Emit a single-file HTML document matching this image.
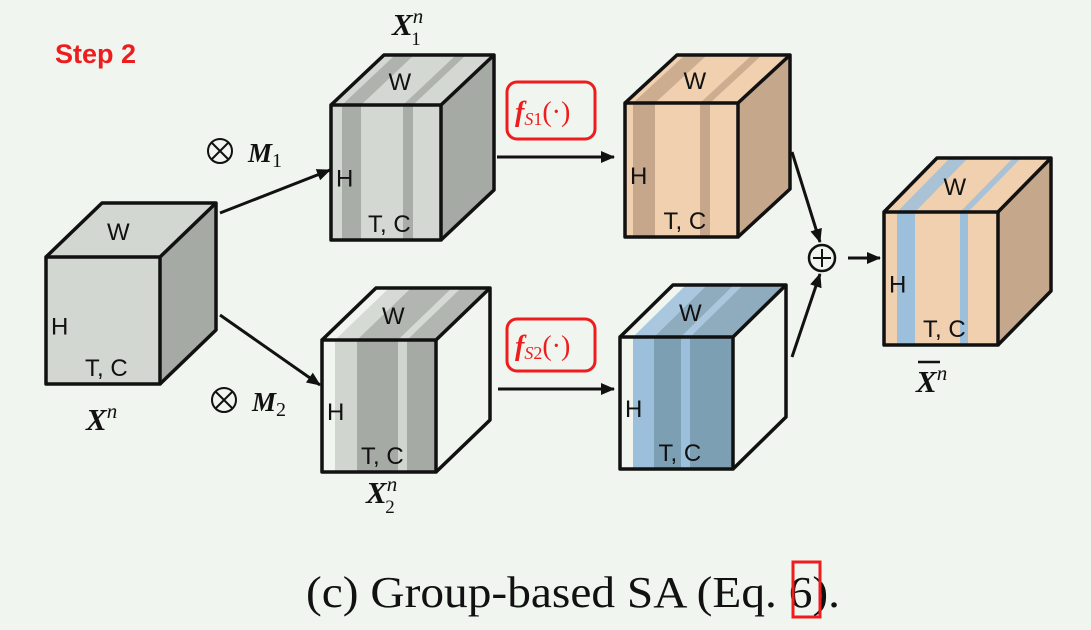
<!DOCTYPE html>
<html><head><meta charset="utf-8"><style>
html,body{margin:0;padding:0;background:#f0f5ef;}
svg{display:block}
.s{font-family:"Liberation Sans",sans-serif;font-size:24px;fill:#111}
.m{font-family:"Liberation Serif",serif;font-weight:bold;font-style:italic;fill:#111}
</style></head><body>
<svg id="svg" width="1091" height="630" viewBox="0 0 1091 630" xmlns="http://www.w3.org/2000/svg">
<defs><marker id="ah" markerWidth="14" markerHeight="12" refX="13" refY="6" orient="auto" markerUnits="userSpaceOnUse"><path d="M0,0 L14,6 L0,12 Z" fill="#111"/></marker></defs>
<rect width="1091" height="630" fill="#f0f5ef"/>
<text x="55" y="63" font-family="Liberation Sans,sans-serif" font-weight="bold" font-size="27" fill="#ee1c1c">Step 2</text>
<g id="cubes"></g>
<g stroke="#111" stroke-width="3" fill="none">
<line x1="220" y1="213" x2="330" y2="170" marker-end="url(#ah)"/>
<line x1="220" y1="315" x2="320" y2="385" marker-end="url(#ah)"/>
<line x1="497" y1="157" x2="614" y2="157" marker-end="url(#ah)"/>
<line x1="498" y1="389" x2="614" y2="389" marker-end="url(#ah)"/>
<line x1="792" y1="152" x2="820" y2="242" marker-end="url(#ah)"/>
<line x1="792" y1="357" x2="820" y2="274" marker-end="url(#ah)"/>
<line x1="848" y1="258" x2="880" y2="258" marker-end="url(#ah)"/>
</g>
<g><circle cx="822" cy="258" r="13" fill="#f0f5ef" stroke="#111" stroke-width="2.5"/><line x1="813" y1="258" x2="831" y2="258" stroke="#111" stroke-width="2"/><line x1="822" y1="249" x2="822" y2="267" stroke="#111" stroke-width="2"/></g>
<g><circle cx="220" cy="151" r="12" fill="none" stroke="#111" stroke-width="2"/><path d="M212,143 L228,159 M228,143 L212,159" stroke="#111" stroke-width="2"/><text x="248" y="162" class="m" font-size="27">M<tspan font-style="normal" font-weight="normal" font-size="20" dy="5">1</tspan></text></g>
<g><circle cx="224" cy="400" r="12" fill="none" stroke="#111" stroke-width="2"/><path d="M216,392 L232,408 M232,392 L216,408" stroke="#111" stroke-width="2"/><text x="252" y="411" class="m" font-size="27">M<tspan font-style="normal" font-weight="normal" font-size="20" dy="5">2</tspan></text></g>
<g><rect x="507" y="82" width="88" height="57" rx="10" fill="none" stroke="#ee1c1c" stroke-width="3"/><text x="515" y="121" font-family="Liberation Serif,serif" font-size="28" fill="#ee1c1c"><tspan font-style="italic" font-weight="bold">f</tspan><tspan font-style="italic" font-size="18" dy="4">S</tspan><tspan font-size="18">1</tspan><tspan dy="-4">(·)</tspan></text></g>
<g><rect x="507" y="319" width="88" height="52" rx="10" fill="none" stroke="#ee1c1c" stroke-width="3"/><text x="515" y="355" font-family="Liberation Serif,serif" font-size="28" fill="#ee1c1c"><tspan font-style="italic" font-weight="bold">f</tspan><tspan font-style="italic" font-size="18" dy="4">S</tspan><tspan font-size="18">2</tspan><tspan dy="-4">(·)</tspan></text></g>
<text x="86" y="430" class="m" font-size="31">X<tspan font-style="italic" font-weight="normal" font-size="21" dy="-12">n</tspan></text>
<text x="392" y="35" class="m" font-size="31">X<tspan font-size="21" font-weight="normal" dy="-12">n</tspan><tspan font-size="19" font-style="normal" font-weight="normal" dx="-12" dy="22">1</tspan></text>
<text x="366" y="503" class="m" font-size="31">X<tspan font-size="21" font-weight="normal" dy="-12">n</tspan><tspan font-size="19" font-style="normal" font-weight="normal" dx="-12" dy="22">2</tspan></text>
<g><line x1="918" y1="362" x2="940" y2="362" stroke="#111" stroke-width="2.5"/><text x="916" y="392" class="m" font-size="31">X<tspan font-style="italic" font-weight="normal" font-size="21" dy="-12">n</tspan></text></g>
<text x="306" y="607" textLength="534" lengthAdjust="spacingAndGlyphs" font-family="Liberation Serif,serif" font-size="44" fill="#111">(c) Group-based SA (Eq. 6).</text>
<rect x="793" y="562" width="27" height="55" fill="none" stroke="#ee1c1c" stroke-width="3"/>
</svg>
<script>
const NS="http://www.w3.org/2000/svg";
const g=document.getElementById('cubes');
function mk(t,a,p){const e=document.createElementNS(NS,t);for(const k in a)e.setAttribute(k,a[k]);p.appendChild(e);return e;}
function cube(name,x,y,w,h,dx,dy,front,side,stripes){
 const c=mk('g',{},g);
 
 
 mk('polygon',{points:`${x},${y} ${x+w},${y} ${x+w+dx},${y-dy} ${x+dx},${y-dy}`,fill:front},c);
 mk('polygon',{points:`${x+w},${y} ${x+w+dx},${y-dy} ${x+w+dx},${y+h-dy} ${x+w},${y+h}`,fill:side},c);
 mk('rect',{x:x,y:y,width:w,height:h,fill:front},c);
 stripes.forEach(s=>{
  mk('rect',{x:s[0],y:y,width:s[1]-s[0],height:h,fill:s[2]},c);
  mk('polygon',{points:`${s[0]},${y} ${s[1]},${y} ${s[1]+dx},${y-dy} ${s[0]+dx},${y-dy}`,fill:s[2],opacity:0.85},c);
 });
 const st={fill:'none',stroke:'#111','stroke-width':3.5,'stroke-linejoin':'round'};
 mk('rect',Object.assign({x:x,y:y,width:w,height:h},st),c);
 mk('polyline',Object.assign({points:`${x},${y} ${x+dx},${y-dy} ${x+w+dx},${y-dy} ${x+w+dx},${y+h-dy} ${x+w},${y+h}`},st),c);
 mk('line',Object.assign({x1:x+w,y1:y,x2:x+w+dx,y2:y-dy},st),c);
 const W=mk('text',{x:x+dx/2+w/2-24,y:y-dy/2+10,class:'s'},c);W.textContent='W';
 const H=mk('text',{x:x+5,y:y+h/2+14,class:'s'},c);H.textContent='H';
 const T=mk('text',{x:x+w/2-18,y:y+h-8,class:'s'},c);T.textContent='T, C';
}
cube('input-cube',46,257,114,127,56,54,'#d2d7d1','#a6aaa4',[]);
cube('x1-cube',331,105,110,135,53,50,'#d3d8d2','#a6aaa4',[[342,361,'#a9ada7'],[403,413,'#a9ada7']]);
cube('fs1-output-cube',625,103,113,134,52,48,'#f0d0ae','#c5a88c',[[633,655,'#c6a78b'],[700,710,'#c6a78b']]);
cube('x2-cube',322,340,114,132,54,52,'#f0f5ef','#f0f5ef',[[335,357,'#d0d5cf'],[357,398,'#a6aaa4'],[398,407,'#d0d5cf'],[407,436,'#a6aaa4']]);
cube('fs2-output-cube',620,337,113,132,53,52,'#f0f5ef','#f0f5ef',[[633,654,'#9cc0dc'],[654,681,'#7c9fb4'],[681,690,'#9cc0dc'],[690,733,'#7c9fb4']]);
cube('aggregated-output-cube',884,212,114,133,53,54,'#f0d0ae','#c5a88c',[[897,915,'#9cc0dc'],[960,968,'#9cc0dc']]);
</script>
</body></html>
